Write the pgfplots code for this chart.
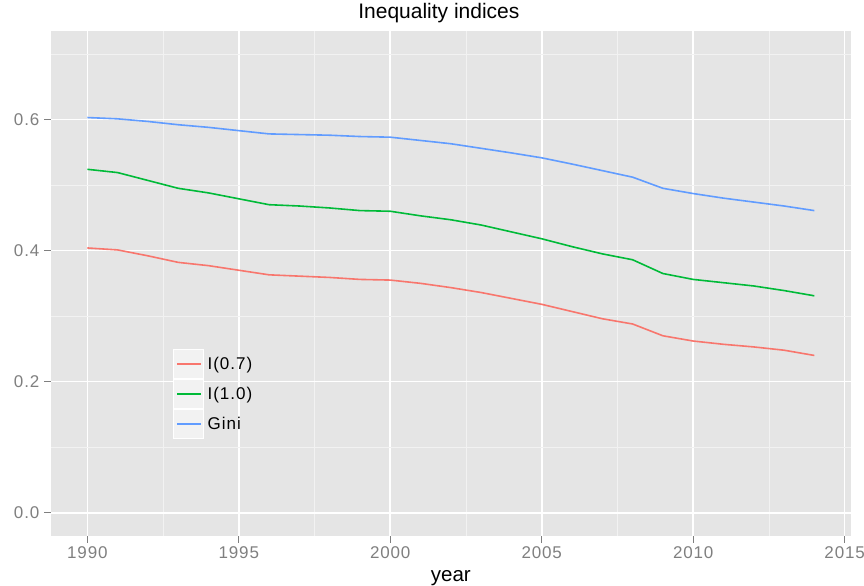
\documentclass[border=0pt]{standalone}
\usepackage{pgfplots}
\pgfplotsset{compat=1.18}
\usepackage{pgfplotstable}
\usepackage{fontspec}
\setmainfont{Liberation Sans}
\newfontfamily\smallfont[LetterSpace=5]{Liberation Sans}
\newfontfamily\legfont[LetterSpace=6]{Liberation Sans}
\definecolor{cR}{HTML}{F8766D}
\definecolor{cG}{HTML}{00BA38}
\definecolor{cB}{HTML}{619CFF}
\definecolor{panel}{HTML}{E5E5E5}
\definecolor{minorg}{HTML}{F2F2F2}
\definecolor{keyfill}{HTML}{F2F2F2}
\definecolor{tickg}{HTML}{7F7F7F}
\pgfplotstableread{
year r g b
1990 0.404 0.524 0.603
1991 0.401 0.519 0.601
1992 0.392 0.507 0.597
1993 0.382 0.495 0.592
1994 0.377 0.488 0.588
1995 0.370 0.479 0.583
1996 0.363 0.470 0.578
1997 0.361 0.468 0.577
1998 0.359 0.465 0.576
1999 0.356 0.461 0.574
2000 0.355 0.460 0.573
2001 0.350 0.453 0.568
2002 0.3435 0.447 0.563
2003 0.336 0.439 0.556
2004 0.327 0.4285 0.549
2005 0.318 0.418 0.5415
2006 0.307 0.406 0.532
2007 0.296 0.395 0.522
2008 0.288 0.386 0.512
2009 0.270 0.365 0.495
2010 0.262 0.356 0.487
2011 0.257 0.351 0.480
2012 0.253 0.346 0.474
2013 0.248 0.339 0.468
2014 0.240 0.331 0.461
}\datatable
\begin{document}
\begin{tikzpicture}
\useasboundingbox (0,0) rectangle (864bp,586bp);
\begin{axis}[
  at={(51bp,50.3bp)}, anchor=south west,
  scale only axis, width=799.7bp, height=504.7bp,
  xmin=1988.8, xmax=2015.2, ymin=-0.035, ymax=0.735,
  axis background/.style={fill=panel},
  axis line style={draw=none},
  xtick={1990,1995,2000,2005,2010,2015},
  minor xtick={1992.5,1997.5,2002.5,2007.5,2012.5},
  ytick={0,0.2,0.4,0.6},
  minor ytick={0.1,0.3,0.5,0.7},
  xmajorgrids, ymajorgrids, xminorgrids, yminorgrids,
  major grid style={white, line width=1.6bp},
  minor grid style={minorg, line width=0.8bp},
  tick align=outside, tickwidth=7bp, subtickwidth=0pt,
  xtick pos=bottom, ytick pos=left,
  major tick style={tickg, line width=1.2bp},
  minor tick style={draw=none},
  ticklabel style={font=\fontsize{17bp}{19bp}\smallfont, text=tickg},
  /pgf/number format/assume math mode=true,
  xticklabel style={inner sep=0pt, yshift=-4bp, /pgf/number format/1000 sep={}},
  yticklabel style={inner sep=0pt, xshift=-4.5bp, /pgf/number format/.cd, fixed, fixed zerofill, precision=1},
  title={Inequality indices},
  title style={at={(rel axis cs:0.485,1.0133)}, anchor=base, font=\fontsize{21bp}{24bp}\selectfont, inner sep=0pt},
  xlabel={year},
  xlabel style={at={(rel axis cs:0.5,-0.0911)}, anchor=base, font=\fontsize{20.5bp}{24bp}\selectfont, inner sep=0pt},
  legend style={at={(rel axis cs:0.1526,0.3699)}, anchor=north west, draw=none, fill=none,
    inner sep=0pt, outer sep=0pt, row sep=0pt, column sep=3.5bp,
    nodes={inner sep=0pt, font=\fontsize{17bp}{19bp}\legfont, text=black}},
  legend cell align=left,
  legend image code/.code={
    \filldraw[draw=white, fill=keyfill, line width=1bp] (0bp,-14.5bp) rectangle (30bp,14.5bp);
    \draw[#1] (3.5bp,0bp) -- (27.5bp,0bp);
  },
  every axis plot/.append style={line width=1.6bp},
]
\addplot[cR] table[x=year, y=r] {\datatable};
\addlegendentry{I(0.7)}
\addplot[cG] table[x=year, y=g] {\datatable};
\addlegendentry{I(1.0)}
\addplot[cB] table[x=year, y=b] {\datatable};
\addlegendentry{Gini}
\end{axis}
\end{tikzpicture}
\end{document}
